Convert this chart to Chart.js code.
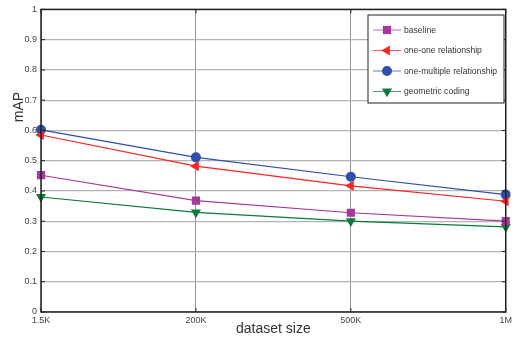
<!DOCTYPE html>
<html>
<head>
<meta charset="utf-8">
<script src="https://cdn.jsdelivr.net/npm/chart.js@4.4.1/dist/chart.umd.min.js"></script>
<style>
  html, body { margin: 0; padding: 0; background: #fff; }
  #wrap { width: 515px; height: 339px; }
</style>
</head>
<body>
<div id="wrap"><canvas id="c" width="515" height="339"></canvas></div>
<script>
// data
const sizes = ["1.5K", "200K", "500K", "1M"];
const baseline = [0.452, 0.368, 0.328, 0.300];
const oneOne = [0.585, 0.482, 0.417, 0.366];
const oneMultiple = [0.602, 0.511, 0.447, 0.388];
const geometric = [0.380, 0.329, 0.300, 0.281];
const yTicks = [0, 0.1, 0.2, 0.3, 0.4, 0.5, 0.6, 0.7, 0.8, 0.9, 1];

const FONT = "'Liberation Sans', Arial, sans-serif";

const series = [
  { label: "baseline", data: baseline, color: "#a3399c", style: "rect", radius: 5.8, rot: 0 },
  { label: "one-one relationship", data: oneOne, color: "#ff2222", style: "triangle", radius: 5.8, rot: -90 },
  { label: "one-multiple relationship", data: oneMultiple, color: "#2f4fa8", style: "circle", radius: 5, rot: 0 },
  { label: "geometric coding", data: geometric, color: "#0b7a3b", style: "triangle", radius: 5.8, rot: 180 }
];

// box, inward ticks, titles and legend
const decor = {
  id: "decor",
  afterDraw(chart) {
    const { ctx, chartArea: a, scales } = chart;
    ctx.save();
    ctx.strokeStyle = "#222";
    ctx.lineWidth = 1.5;
    ctx.strokeRect(a.left, a.top, a.right - a.left, a.bottom - a.top);
    // inward ticks
    ctx.lineWidth = 1;
    yTicks.forEach(v => {
      const y = scales.y.getPixelForValue(v);
      ctx.beginPath();
      ctx.moveTo(a.left, y); ctx.lineTo(a.left + 4, y);
      ctx.moveTo(a.right, y); ctx.lineTo(a.right - 4, y);
      ctx.stroke();
    });
    sizes.forEach((s, i) => {
      const x = scales.x.getPixelForValue(i);
      ctx.beginPath();
      ctx.moveTo(x, a.bottom); ctx.lineTo(x, a.bottom - 4);
      ctx.moveTo(x, a.top); ctx.lineTo(x, a.top + 4);
      ctx.stroke();
    });
    // axis titles
    ctx.fillStyle = "#333";
    ctx.font = "14px " + FONT;
    ctx.textAlign = "center";
    ctx.textBaseline = "middle";
    ctx.fillText("dataset size", (a.left + a.right) / 2, 329);
    ctx.save();
    ctx.translate(19, 107);
    ctx.rotate(-Math.PI / 2);
    ctx.fillText("mAP", 0, 0);
    ctx.restore();
    // legend
    const lx = 368, ly = 15, lw = 136, lh = 88;
    ctx.fillStyle = "#fff";
    ctx.fillRect(lx, ly, lw, lh);
    ctx.strokeStyle = "#222";
    ctx.lineWidth = 1;
    ctx.strokeRect(lx, ly, lw, lh);
    ctx.font = "8.6px " + FONT;
    ctx.textAlign = "left";
    chart.data.datasets.forEach((ds, i) => {
      const y = 30 + i * 20.5;
      ctx.strokeStyle = ds.borderColor;
      ctx.globalAlpha = 0.75;
      ctx.lineWidth = 1;
      ctx.beginPath();
      ctx.moveTo(373, y); ctx.lineTo(401, y);
      ctx.stroke();
      ctx.globalAlpha = 1;
      ctx.fillStyle = ds.pointBackgroundColor;
      Chart.helpers.drawPoint(ctx, {
        pointStyle: ds.pointStyle, radius: ds.pointRadius, rotation: ds.pointRotation, borderWidth: 0
      }, 387, y);
      ctx.fillStyle = "#333";
      ctx.fillText(ds.label, 404, y + 0.5);
    });
    ctx.restore();
  }
};

new Chart(document.getElementById("c"), {
  type: "line",
  data: {
    labels: sizes,
    datasets: series.map(s => ({
      label: s.label,
      data: s.data,
      borderColor: s.color,
      backgroundColor: s.color,
      pointBackgroundColor: s.color,
      pointBorderColor: s.color,
      pointBorderWidth: 0,
      borderWidth: 1.2,
      pointStyle: s.style,
      pointRadius: s.radius,
      pointRotation: s.rot,
      tension: 0
    }))
  },
  options: {
    responsive: false,
    animation: false,
    layout: { padding: { top: 4, right: 6, left: 0, bottom: 0 } },
    plugins: { legend: { display: false }, tooltip: { enabled: false } },
    scales: {
      x: {
        type: "category",
        offset: false,
        grid: { color: "#7a7a7a", lineWidth: 0.8, drawTicks: false },
        border: { display: false },
        ticks: {
          color: "#444", padding: 3, maxRotation: 0,
          font: { family: FONT, size: 9 }
        },
        afterFit(scale) { scale.height = 27; }
      },
      y: {
        min: 0, max: 1,
        afterBuildTicks(scale) { scale.ticks = yTicks.map(v => ({ value: v })); },
        grid: { color: "#b4b4b4", lineWidth: 1.3, drawTicks: false },
        border: { display: false },
        ticks: {
          color: "#444", padding: 4,
          font: { family: FONT, size: 9 },
          callback: v => String(v)
        },
        afterFit(scale) { scale.width = 41; }
      }
    }
  },
  plugins: [decor]
});
</script>
</body>
</html>
